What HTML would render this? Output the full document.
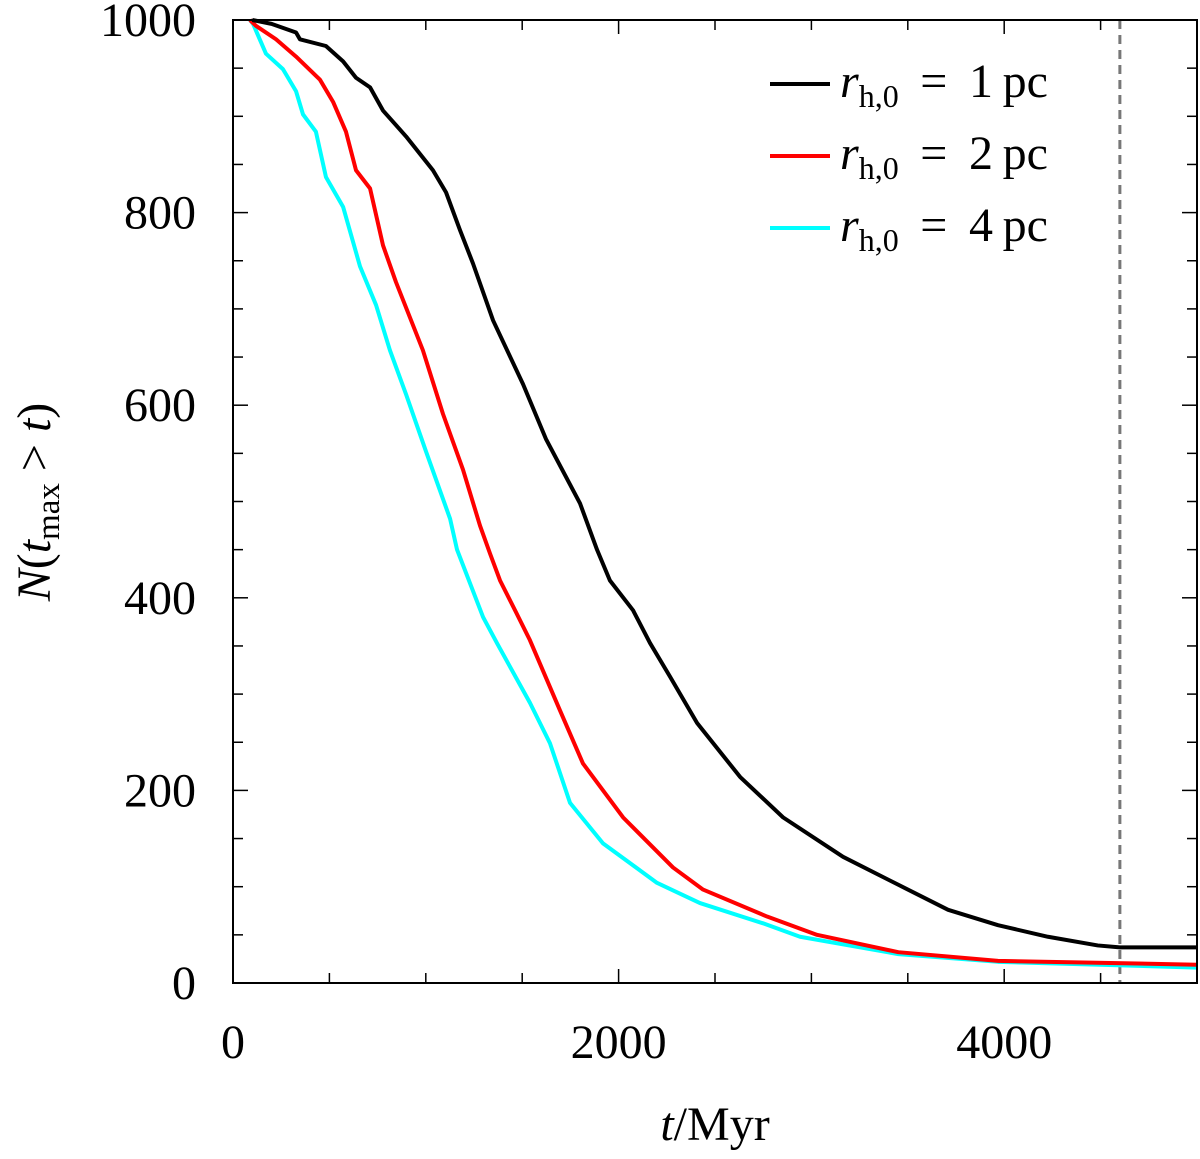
<!DOCTYPE html>
<html><head><meta charset="utf-8"><style>
body{margin:0;background:#fff}
svg text{font-family:"Liberation Serif",serif;fill:#000}
</style></head><body>
<svg id="chart" width="1200" height="1154" xmlns="http://www.w3.org/2000/svg">
<g id="plot"></g>
</svg>
<script>
const xTicks=[0,2000,4000];
const yTicks=[0,200,400,600,800,1000];
const tBlack=[100,200,327,347,482,571,638,711,778,898,1037,1105,1177,1245,1349,1504,1623,1800,1888,1955,2075,2163,2267,2407,2630,2853,3164,3451,3709,3968,4227,4485,4600,5000];
const nBlack=[1000,996,987,980,973,957,940,930,906,879,844,821,782,747,688,622,565,498,450,418,387,353,318,270,214,172,131,102,76,60,48,39,37,37];
const tRed=[88,119,223,327,451,519,586,638,711,778,845,985,1089,1193,1281,1333,1385,1468,1540,1696,1815,2023,2282,2438,2770,3029,3451,3968,5000];
const nRed=[1000,994,980,962,938,915,884,844,825,766,728,657,591,533,475,446,418,385,356,283,228,172,120,97,69,50,32,23,19];
const tCyan=[88,104,171,259,327,363,430,482,571,659,742,814,898,1001,1126,1162,1297,1369,1540,1644,1748,1919,2199,2422,2749,2941,3451,3968,5000];
const nCyan=[1000,996,965,949,926,902,884,837,806,744,704,657,611,552,482,450,380,353,291,249,187,145,104,83,62,48,30,22,16];
const sunAge=4600;
const X0=233,X1=1197,Y0=983,Y1=20;
const xs=t=>X0+(t/5000)*(X1-X0);
const ys=n=>Y0-(n/1000)*(Y0-Y1);
const g=document.getElementById('plot');
const NS='http://www.w3.org/2000/svg';
function mk(tag,attrs){const e=document.createElementNS(NS,tag);for(const k in attrs)e.setAttribute(k,attrs[k]);g.appendChild(e);return e;}
function line(tl,nl,color,name){
 let d='M'+xs(tl[0])+','+ys(nl[0]);
 for(let i=1;i<tl.length;i++){d+=' L'+xs(tl[i])+','+ys(nl[i]);}
 const p=mk('path',{d:d,fill:'none',stroke:color,'stroke-width':4,'stroke-linejoin':'round'});
 
 
}
const dl=mk('line',{x1:xs(sunAge),x2:xs(sunAge),y1:Y1,y2:Y0,stroke:'#777','stroke-width':3,'stroke-dasharray':'9,6'});


line(tCyan,nCyan,'#00ffff','series-4pc');
line(tRed,nRed,'#ff0000','series-2pc');
line(tBlack,nBlack,'#000000','series-1pc');
const fr=mk('rect',{x:X0,y:Y1,width:X1-X0,height:Y0-Y1,fill:'none',stroke:'#000','stroke-width':2});


for(let t=0;t<=5000;t+=500){const L=(t%2000===0)?14:10;
 mk('line',{x1:xs(t),x2:xs(t),y1:Y0,y2:Y0-L,stroke:'#000','stroke-width':1.5});
 mk('line',{x1:xs(t),x2:xs(t),y1:Y1,y2:Y1+L,stroke:'#000','stroke-width':1.5});}
for(let n=0;n<=1000;n+=50){const L=(n%200===0)?15:10;
 mk('line',{x1:X0,x2:X0+L,y1:ys(n),y2:ys(n),stroke:'#000','stroke-width':1.5});
 mk('line',{x1:X1,x2:X1-L,y1:ys(n),y2:ys(n),stroke:'#000','stroke-width':1.5});}
xTicks.forEach(t=>{const e=mk('text',{x:xs(t),y:1058,'text-anchor':'middle','font-size':48});e.textContent=t;
 });
yTicks.forEach(n=>{const e=mk('text',{x:196,y:ys(n)+16,'text-anchor':'end','font-size':48});e.textContent=n;
 });
const leg=[['#000','1'],['#ff0000','2'],['#00ffff','4']];
leg.forEach((l,i)=>{const y=84+i*72;
 const ln=mk('line',{x1:770,x2:830,y1:y,y2:y,stroke:l[0],'stroke-width':4});
 
 const t=mk('text',{x:840,y:y+13,'font-size':48});
 t.innerHTML='<tspan font-style="italic">r</tspan><tspan font-size="32" dy="10">h,0</tspan><tspan dy="-10"> \u2009= \u20091 pc</tspan>'.replace('1 pc',l[1]+'\u2009pc');
 });
const xt=mk('text',{x:715,y:1140,'text-anchor':'middle','font-size':48});
xt.innerHTML='<tspan font-style="italic">t</tspan>/Myr';

const yt=mk('text',{x:0,y:0,'text-anchor':'middle','font-size':48,transform:'translate(50,502) rotate(-90)'});
yt.innerHTML='<tspan font-style="italic">N</tspan>(<tspan font-style="italic">t</tspan><tspan font-size="33" dy="9">max</tspan><tspan dy="-9"> &gt; </tspan><tspan font-style="italic">t</tspan>)';

</script>
</body></html>
